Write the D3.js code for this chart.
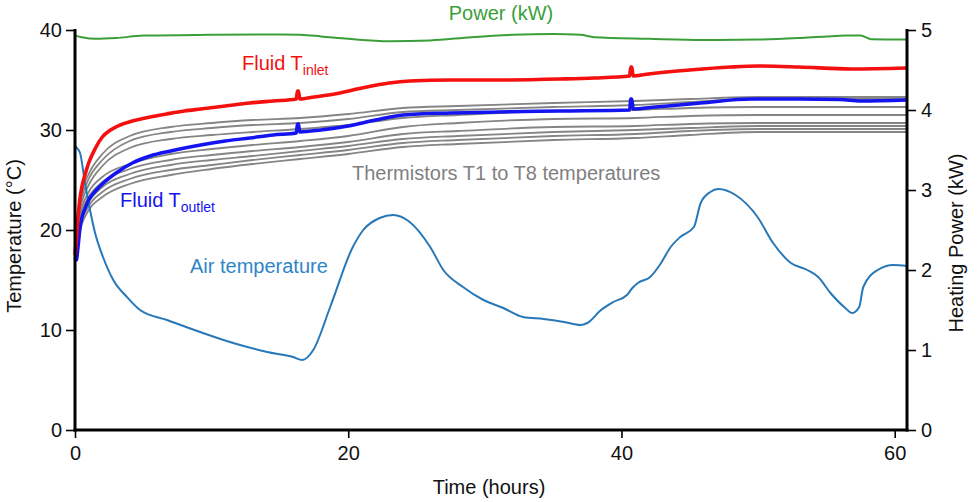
<!DOCTYPE html>
<html>
<head>
<meta charset="utf-8">
<script src="https://cdn.jsdelivr.net/npm/d3@7/dist/d3.min.js"></script>
<style>
  html, body { margin: 0; padding: 0; background: #fff; }
  svg { display: block; font-family: "Liberation Sans", Arial, sans-serif; }
</style>
</head>
<body>
<svg id="chart" width="977" height="502"></svg>
<script>
// ---------- DATA ----------
const xTicks = [0, 20, 40, 60];
const tempTicks = [0, 10, 20, 30, 40];
const powerTicks = [0, 1, 2, 3, 4, 5];

// Heating power (kW)
const powerT = [0, 0.5, 1.5, 3, 5, 10, 15, 16.5, 18, 20, 23, 26, 29, 32, 35, 37, 38, 42, 46, 50, 53, 55, 56.5, 57.5, 58.3, 60.9];
const powerV = [4.93, 4.91, 4.89, 4.90, 4.93, 4.94, 4.945, 4.94, 4.92, 4.89, 4.86, 4.87, 4.91, 4.94, 4.95, 4.94, 4.91, 4.89, 4.875, 4.88, 4.90, 4.92, 4.93, 4.93, 4.885, 4.88];

// Fluid inlet temperature (°C)
const inletT = [0, 0.1, 0.2, 0.35, 0.5, 0.75, 1.0, 1.5, 2.0, 2.6, 3.3, 4.2, 5.5, 6.7, 8, 9.2, 11, 12.8, 14.5, 16.2, 16.28, 16.36, 16.45, 17.5, 19, 21, 23, 24.5, 27.5, 31, 35.5, 38, 40.6, 40.68, 40.76, 40.85, 42, 45, 48, 50, 53, 56.8, 60.9];
const inletV = [17.5, 19.0, 21.0, 23.0, 24.3, 25.6, 26.7, 28.2, 29.3, 30.0, 30.5, 30.9, 31.3, 31.6, 31.9, 32.1, 32.4, 32.7, 32.9, 33.1, 33.9, 33.9, 33.1, 33.3, 33.6, 34.2, 34.7, 34.9, 35.0, 35.0, 35.1, 35.2, 35.4, 36.3, 36.3, 35.4, 35.6, 36.0, 36.3, 36.4, 36.3, 36.1, 36.2];

// Fluid outlet temperature (°C)
const outletT = [0, 0.1, 0.2, 0.35, 0.5, 0.75, 1.0, 1.5, 2.0, 3.0, 4.2, 5.5, 7, 9.2, 11, 12.8, 14.5, 16.2, 16.28, 16.36, 16.45, 18, 20, 22, 24, 27.5, 31, 35.5, 40.6, 40.68, 40.76, 40.85, 42.5, 45.8, 49.5, 53, 56, 57.5, 60.9];
const outletV = [17.2, 17.0, 18.0, 20.0, 21.2, 22.2, 23.0, 23.9, 24.6, 25.7, 26.7, 27.4, 27.9, 28.5, 28.9, 29.2, 29.5, 29.7, 30.6, 30.6, 29.8, 30.0, 30.4, 31.0, 31.5, 31.7, 31.8, 31.9, 32.0, 33.1, 33.1, 32.1, 32.3, 32.7, 33.1, 33.1, 33.05, 32.9, 33.0];

// Thermistors T1..T8 (°C), common time grid
const thermT = [0, 0.2, 0.5, 1, 2, 4, 7, 10, 13, 16.5, 20, 24, 28, 35, 41, 45, 50, 55, 60.9];
const therm1 = [19.5, 21.5, 23.8, 25.6, 27.6, 29.4, 30.3, 30.7, 31.0, 31.2, 31.6, 32.2, 32.4, 32.7, 32.9, 33.1, 33.3, 33.3, 33.3];
const therm2 = [19.3, 21.2, 23.3, 25.1, 27.0, 28.9, 29.8, 30.2, 30.5, 30.7, 31.1, 31.8, 32.0, 32.3, 32.5, 32.8, 33.1, 33.1, 33.1];
const therm3 = [19.1, 20.8, 22.8, 24.5, 26.4, 28.2, 29.1, 29.5, 29.8, 30.1, 30.5, 31.2, 31.5, 31.9, 32.0, 32.2, 32.3, 32.3, 32.3];
const therm4 = [18.9, 20.4, 22.2, 23.8, 25.3, 26.6, 27.6, 28.1, 28.5, 28.9, 29.4, 30.3, 30.7, 31.1, 31.2, 31.4, 31.5, 31.5, 31.5];
const therm5 = [18.7, 20.1, 21.8, 23.3, 24.8, 26.1, 27.0, 27.5, 27.9, 28.3, 28.8, 29.6, 29.9, 30.3, 30.4, 30.6, 30.7, 30.7, 30.7];
const therm6 = [18.5, 19.8, 21.4, 22.8, 24.3, 25.6, 26.5, 27.0, 27.4, 27.9, 28.4, 29.1, 29.4, 29.8, 30.0, 30.2, 30.4, 30.4, 30.4];
const therm7 = [18.3, 19.5, 21.0, 22.4, 23.8, 25.1, 26.0, 26.5, 27.0, 27.5, 28.0, 28.7, 29.0, 29.4, 29.6, 29.9, 30.1, 30.1, 30.1];
const therm8 = [18.1, 19.2, 20.6, 22.0, 23.3, 24.6, 25.5, 26.1, 26.6, 27.1, 27.6, 28.3, 28.6, 29.0, 29.2, 29.5, 29.8, 29.8, 29.8];

// Air temperature (°C)
const airT = [0, 0.07, 0.37, 0.73, 1.1, 1.47, 2.05, 2.8, 3.8, 4.76, 6.74, 9.16, 11.58, 14.07, 15.97, 16.63, 17.44, 18.68, 20.3, 21.1, 22.3, 23.3, 24.5, 26.0, 26.96, 28.4, 29.9, 31.35, 32.8, 34.3, 35.8, 37.0, 37.5, 38.5, 39.4, 40.4, 40.8, 41.2, 42.1, 42.9, 43.6, 44.3, 45.3, 45.8, 46.5, 47.1, 48.35, 49.96, 51.1, 52.4, 53.6, 54.4, 55.3, 56.3, 56.9, 57.4, 57.7, 58.75, 59.9, 60.9];
const airV = [28.4, 28.3, 27.7, 24.7, 22.0, 19.7, 17.3, 15.0, 13.3, 12.0, 11.0, 9.8, 8.7, 7.8, 7.3, 7.0, 8.0, 12.3, 18.2, 20.0, 21.2, 21.5, 20.8, 18.3, 16.0, 14.3, 13.0, 12.2, 11.3, 11.1, 10.8, 10.5, 10.7, 12.0, 12.8, 13.5, 14.2, 14.7, 15.3, 16.7, 18.3, 19.3, 20.3, 22.7, 23.8, 24.1, 23.5, 21.3, 18.7, 16.7, 16.0, 15.3, 13.7, 12.3, 11.7, 12.3, 14.3, 16.0, 16.5, 16.4];

// ---------- LAYOUT ----------
const svg = d3.select("#chart");
const mLeft = 75, mRight = 907, mTop = 30, mBottom = 430;
const x = d3.scaleLinear().domain([0, 60.9]).range([mLeft, mRight]);
const yT = d3.scaleLinear().domain([0, 40]).range([mBottom, mTop]);
const yP = d3.scaleLinear().domain([0, 5]).range([mBottom, mTop]);

const zip = (ts, vs) => ts.map((t, i) => [t, vs[i]]);
const lineT = d3.line().x(d => x(d[0])).y(d => yT(d[1])).curve(d3.curveMonotoneX);
const lineP = d3.line().x(d => x(d[0])).y(d => yP(d[1])).curve(d3.curveMonotoneX);

const plot = svg.append("g");

// thermistors
[therm1, therm2, therm3, therm4, therm5, therm6, therm7, therm8].forEach(vs => {
  plot.append("path").attr("d", lineT(zip(thermT, vs)))
    .attr("fill", "none").attr("stroke", "#858585").attr("stroke-width", 1.8);
});

// air
plot.append("path").attr("d", lineT(zip(airT, airV)))
  .attr("fill", "none").attr("stroke", "#2878b8").attr("stroke-width", 2);

// outlet
plot.append("path").attr("d", lineT(zip(outletT, outletV)))
  .attr("fill", "none").attr("stroke", "#1414f0").attr("stroke-width", 3.5);

// inlet
plot.append("path").attr("d", lineT(zip(inletT, inletV)))
  .attr("fill", "none").attr("stroke", "#f51010").attr("stroke-width", 3.6);

// power
plot.append("path").attr("d", lineP(zip(powerT, powerV)))
  .attr("fill", "none").attr("stroke", "#3a9f3a").attr("stroke-width", 2);

// ---------- AXES ----------
function styleAxis(g) {
  g.selectAll(".domain").remove();
  g.selectAll(".tick line").attr("stroke", "#000").attr("stroke-width", 1.6);
  g.selectAll(".tick text").attr("fill", "#111").style("font-size", "20px")
    .style("font-family", "'Liberation Sans', Arial, sans-serif");
}

const gx = svg.append("g").attr("transform", `translate(0,${mBottom})`)
  .call(d3.axisBottom(x).tickValues(xTicks).tickSize(8).tickPadding(8).tickFormat(d3.format("d")));
styleAxis(gx);

const gyl = svg.append("g").attr("transform", `translate(${mLeft},0)`)
  .call(d3.axisLeft(yT).tickValues(tempTicks).tickSize(9).tickPadding(4).tickFormat(d3.format("d")));
styleAxis(gyl);

const gyr = svg.append("g").attr("transform", `translate(${mRight},0)`)
  .call(d3.axisRight(yP).tickValues(powerTicks).tickSize(9).tickPadding(5).tickFormat(d3.format("d")));
styleAxis(gyr);

// thick axis lines
svg.append("line").attr("x1", mLeft).attr("x2", mLeft).attr("y1", mTop - 1).attr("y2", mBottom + 1.5)
  .attr("stroke", "#000").attr("stroke-width", 3);
svg.append("line").attr("x1", mRight).attr("x2", mRight).attr("y1", mTop - 1).attr("y2", mBottom + 1.5)
  .attr("stroke", "#000").attr("stroke-width", 3);
svg.append("line").attr("x1", mLeft - 1.5).attr("x2", mRight + 1.5).attr("y1", mBottom).attr("y2", mBottom)
  .attr("stroke", "#000").attr("stroke-width", 3);

// axis titles
svg.append("text").attr("x", 489).attr("y", 494).attr("text-anchor", "middle")
  .style("font-size", "20px").attr("fill", "#111").text("Time (hours)");
svg.append("text").attr("transform", `translate(21,${236}) rotate(-90)`).attr("text-anchor", "middle")
  .style("font-size", "20px").attr("fill", "#111").text("Temperature (°C)");
svg.append("text").attr("transform", `translate(963,${243}) rotate(-90)`).attr("text-anchor", "middle")
  .style("font-size", "20px").attr("fill", "#111").text("Heating Power (kW)");

// annotations
svg.append("text").attr("x", 501).attr("y", 20).attr("text-anchor", "middle")
  .style("font-size", "20px").attr("fill", "#3a9f3a").text("Power (kW)");

const inl = svg.append("text").attr("x", 242).attr("y", 70).style("font-size", "20px").attr("fill", "#f51010");
inl.append("tspan").text("Fluid T");
inl.append("tspan").attr("dy", 5).style("font-size", "14px").text("inlet");

const outl = svg.append("text").attr("x", 120).attr("y", 207).style("font-size", "20px").attr("fill", "#1414f0");
outl.append("tspan").text("Fluid T");
outl.append("tspan").attr("dy", 5).style("font-size", "14px").text("outlet");

svg.append("text").attr("x", 352).attr("y", 180).style("font-size", "20px").attr("fill", "#7f7f7f")
  .text("Thermistors T1 to T8 temperatures");
svg.append("text").attr("x", 190).attr("y", 273).style("font-size", "20px").attr("fill", "#2e86c8")
  .text("Air temperature");
</script>
</body>
</html>
